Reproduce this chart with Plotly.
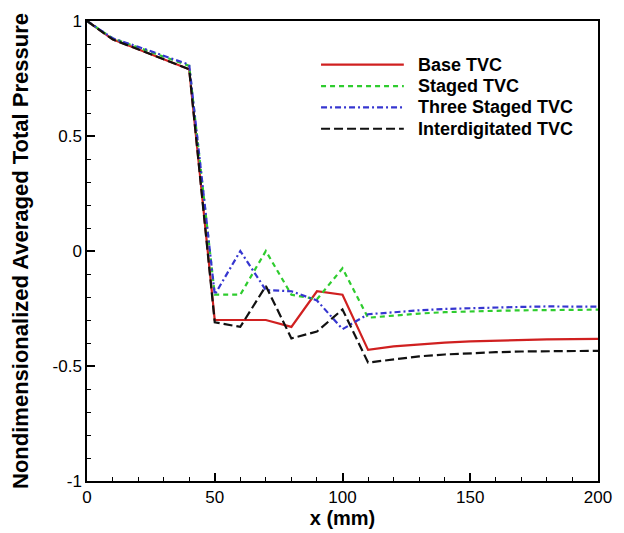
import plotly.graph_objects as go

x_mm = [0, 10, 20, 30, 40, 50, 60, 70, 80, 90, 100, 110, 120, 130, 140, 150, 160, 170, 180, 190, 200]

base_tvc = [1.0, 0.92, 0.877, 0.835, 0.79, -0.30, -0.30, -0.30, -0.33, -0.175, -0.19, -0.43,
            -0.415, -0.405, -0.398, -0.393, -0.389, -0.386, -0.384, -0.383, -0.382]
staged_tvc = [1.0, 0.925, 0.885, 0.845, 0.805, -0.19, -0.19, 0.0, -0.19, -0.21, -0.075, -0.29,
              -0.28, -0.272, -0.266, -0.262, -0.26, -0.258, -0.256, -0.255, -0.255]
three_staged_tvc = [1.0, 0.925, 0.888, 0.848, 0.81, -0.19, 0.0, -0.17, -0.175, -0.215, -0.34, -0.275,
                    -0.266, -0.258, -0.252, -0.248, -0.245, -0.243, -0.241, -0.240, -0.242]
interdigitated_tvc = [1.0, 0.92, 0.877, 0.835, 0.79, -0.31, -0.33, -0.152, -0.38, -0.35, -0.254, -0.485,
                      -0.47, -0.458, -0.45, -0.444, -0.44, -0.437, -0.435, -0.434, -0.434]

names = ["Base TVC", "Staged TVC", "Three Staged TVC", "Interdigitated TVC"]
series = [base_tvc, staged_tvc, three_staged_tvc, interdigitated_tvc]
colors = ["#d02020", "#2ecc2e", "#3636d0", "#111111"]
dashes = ["solid", "5px,4px", "6px,3px,2px,3px", "9px,4px"]

y_tickvals = [-1, -0.5, 0, 0.5, 1]
y_ticktext = ["-1", "-0.5", "0", "0.5", "1"]

FONT = "Liberation Sans, Arial, sans-serif"

fig = go.Figure()
for n, s, c, d in zip(names, series, colors, dashes):
    fig.add_trace(go.Scatter(x=x_mm, y=s, mode="lines", name=n,
                             line=dict(color=c, width=2.2, dash=d), showlegend=False))

# custom legend (line samples + labels) in paper coordinates
leg_x0, leg_x1, leg_tx = 0.458, 0.62, 0.643
leg_y0, leg_dy = 0.905, 0.0464
for i, (n, c, d) in enumerate(zip(names, colors, dashes)):
    yy = leg_y0 - i * leg_dy
    fig.add_shape(type="line", xref="paper", yref="paper", x0=leg_x0, x1=leg_x1, y0=yy, y1=yy,
                  line=dict(color=c, width=2.2, dash=d))
    fig.add_annotation(xref="paper", yref="paper", x=leg_tx, y=yy, text=n, showarrow=False,
                       xanchor="left", yanchor="middle",
                       font=dict(family=FONT, size=18, color="black", weight="bold"))

fig.update_layout(
    width=624, height=533,
    margin=dict(l=87, r=24, t=12, b=47),
    paper_bgcolor="white", plot_bgcolor="white",
    font=dict(family=FONT, color="black"),
)
fig.update_xaxes(
    range=[0, 200], dtick=50, tick0=0,
    showline=True, mirror=True, linecolor="black", linewidth=1.5,
    showgrid=False, zeroline=False,
    ticks="inside", ticklen=8, tickwidth=1.5, tickcolor="black",
    minor=dict(dtick=10, ticks="inside", ticklen=4, tickwidth=1, tickcolor="black", showgrid=False),
    tickfont=dict(size=17, family=FONT),
    title=dict(text="x (mm)", font=dict(size=20, family=FONT, weight="bold"), standoff=0),
)
fig.update_yaxes(
    range=[-1, 1], tickvals=y_tickvals, ticktext=y_ticktext,
    showline=True, mirror=True, linecolor="black", linewidth=1.5,
    showgrid=False, zeroline=False,
    ticks="inside", ticklen=8, tickwidth=1.5, tickcolor="black",
    minor=dict(dtick=0.1, tick0=0, ticks="inside", ticklen=4, tickwidth=1, tickcolor="black", showgrid=False),
    tickfont=dict(size=17, family=FONT),
    title=dict(text="Nondimensionalized Averaged Total Pressure",
               font=dict(size=22, family=FONT, weight="bold"), standoff=18),
)

fig.write_html("out.html")
